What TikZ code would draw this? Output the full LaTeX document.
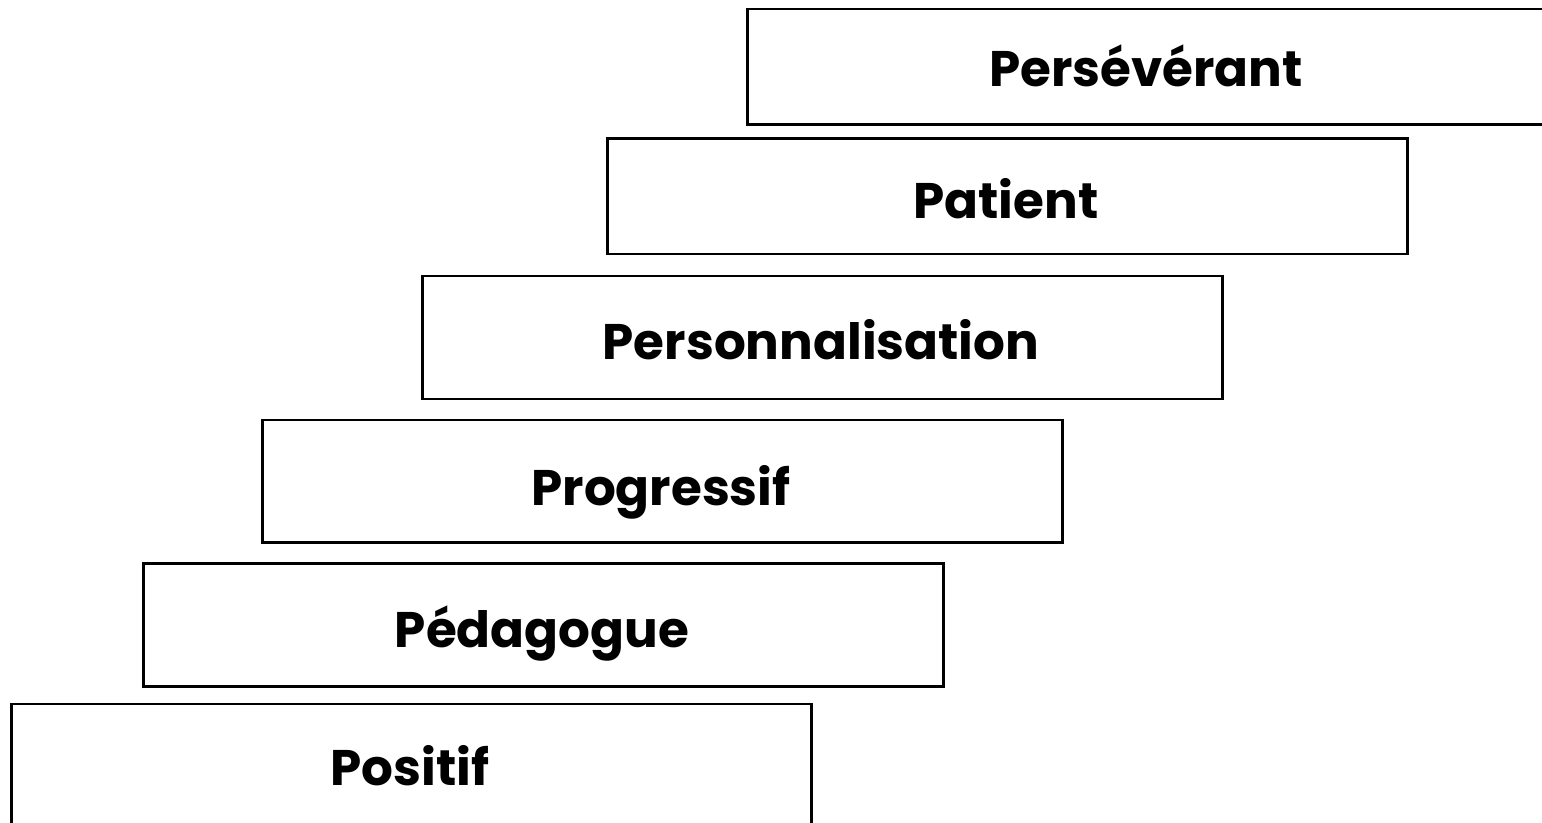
\documentclass[tikz,border=0pt]{standalone}
\usepackage{fontspec}
\newfontfamily\popfont{Poppins}
\tikzset{
  stepbox/.style={draw=black, line width=2.5pt, fill=white, anchor=north west, minimum width=800pt, inner sep=0pt},
  steplabel/.style={anchor=base, inner sep=0pt, font=\popfont\bfseries\fontsize{50}{60}\selectfont}
}
\begin{document}
\begin{tikzpicture}[x=1pt,y=-1pt]
\useasboundingbox (0,0) rectangle (1542,822);
\begin{scope}
\clip (0,0) rectangle (1542,822);
\node[stepbox, minimum height=115.5pt] (b1) at (746,7.5) {};
\node[stepbox, minimum height=115.5pt] (b2) at (606,137) {};
\node[stepbox, minimum height=123pt] (b3) at (421,274.5) {};
\node[stepbox, minimum height=122.5pt] (b4) at (261,418.5) {};
\node[stepbox, minimum height=123pt] (b5) at (142,562) {};
\node[stepbox, minimum height=123pt] (b6) at (10,702.5) {};
\end{scope}
\node[steplabel] (t1) at (1146,86) {Persévérant};
\node[steplabel] (t2) at (1006,218) {Patient};
\node[steplabel] (t3) at (821,359) {Personnalisation};
\node[steplabel] (t4) at (661,505) {Progressif};
\node[steplabel] (t5) at (542,647) {Pédagogue};
\node[steplabel] (t6) at (410,785) {Positif};
\end{tikzpicture}
\end{document}
